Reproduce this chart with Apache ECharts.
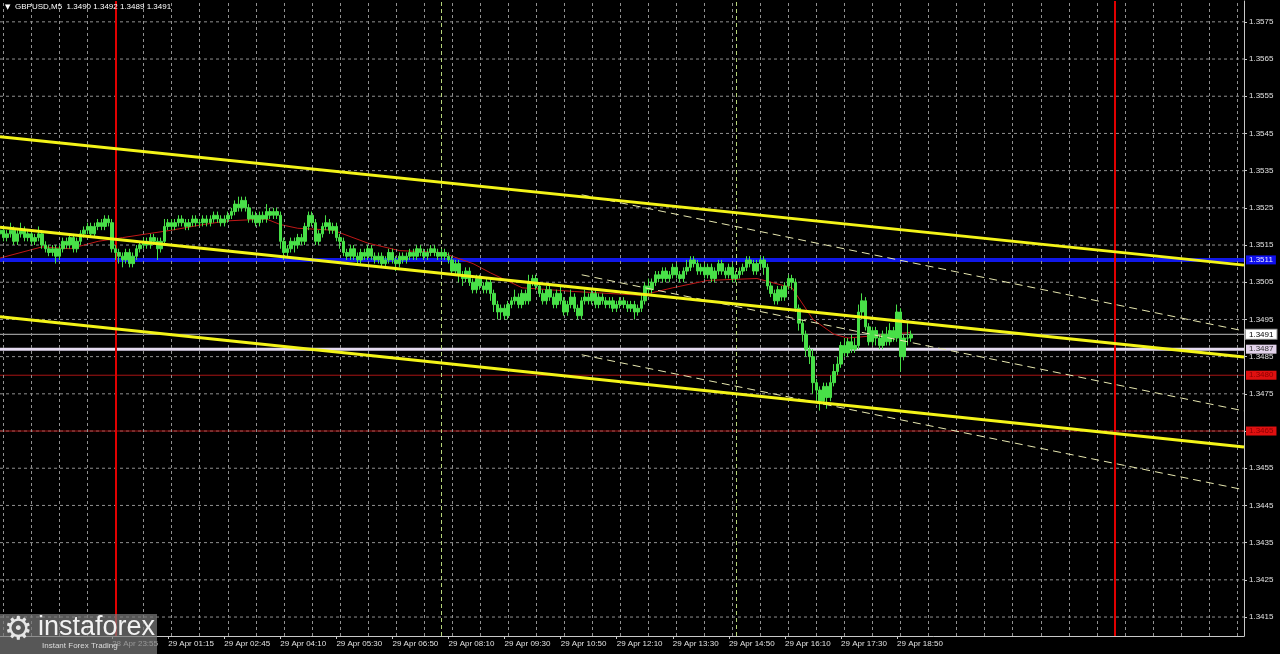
<!DOCTYPE html>
<html>
<head>
<meta charset="utf-8">
<script src="https://cdn.jsdelivr.net/npm/echarts@6/dist/echarts.min.js"></script>
<style>
html,body{margin:0;padding:0;background:#000;}
#chart{width:1280px;height:654px;}
</style>
</head>
<body>
<div id="chart"></div>
<script>
// ---- data (prices in pips = price x 10000) ----
const slotCount = 356; // bar slots across the chart width (incl. empty future space)
const timeTickIdx = [32,48,64,80,96,112,128,144,160,176,192,208,224,240,256];
const timeTickText = ['28 Apr 23:55','29 Apr 01:15','29 Apr 02:45','29 Apr 04:10','29 Apr 05:30','29 Apr 06:50','29 Apr 08:10','29 Apr 09:30','29 Apr 10:50','29 Apr 12:10','29 Apr 13:30','29 Apr 14:50','29 Apr 16:10','29 Apr 17:30','29 Apr 18:50'];
const priceTicks = [1.3415,1.3425,1.3435,1.3445,1.3455,1.3465,1.3475,1.3485,1.3495,1.3505,1.3515,1.3525,1.3535,1.3545,1.3555,1.3565,1.3575];
const priceMin = 1.34099, priceMax = 1.35806;

// [open, close, low, high] in pips
const ohlc = [
[13518,13519,13517,13520],[13519,13517,13516,13520],[13517,13518,13516,13519],[13518,13519,13517,13521],[13519,13516,13515,13520],
[13516,13518,13515,13519],[13518,13519,13517,13521],[13519,13517,13516,13520],[13517,13518,13516,13519],[13518,13516,13515,13519],
[13516,13517,13515,13518],[13517,13518,13516,13520],[13518,13515,13514,13519],[13515,13514,13513,13516],[13514,13513,13512,13515],
[13513,13514,13512,13515],[13514,13512,13510,13515],[13512,13514,13511,13515],[13514,13516,13513,13517],[13516,13515,13514,13517],
[13515,13517,13514,13518],[13517,13514,13513,13518],[13514,13516,13513,13517],[13516,13518,13515,13519],[13518,13519,13517,13520],
[13519,13520,13518,13521],[13520,13518,13517,13521],[13518,13520,13517,13521],[13520,13521,13519,13522],[13521,13520,13519,13522],
[13520,13522,13519,13523],[13522,13521,13520,13523],[13521,13514,13513,13522],[13514,13513,13511,13515],[13513,13512,13510,13514],
[13512,13511,13509,13513],[13511,13513,13510,13514],[13513,13510,13509,13514],[13510,13512,13509,13513],[13512,13514,13511,13515],
[13514,13515,13513,13516],[13515,13516,13514,13517],[13516,13515,13514,13517],[13515,13517,13514,13518],[13517,13516,13515,13518],
[13516,13514,13511,13517],[13514,13516,13513,13517],[13516,13520,13515,13522],[13520,13521,13519,13522],[13521,13520,13519,13522],
[13520,13521,13519,13522],[13521,13522,13520,13523],[13522,13521,13520,13523],[13521,13520,13519,13522],[13520,13521,13519,13522],
[13521,13522,13520,13523],[13522,13521,13520,13523],[13521,13521,13520,13522],[13521,13522,13520,13523],[13522,13521,13520,13523],
[13521,13522,13520,13523],[13522,13523,13521,13524],[13523,13522,13521,13524],[13522,13521,13520,13523],[13521,13522,13520,13523],
[13522,13523,13521,13524],[13523,13524,13522,13525],[13524,13526,13523,13527],[13526,13525,13524,13528],[13525,13527,13524,13528],
[13527,13525,13524,13528],[13525,13522,13521,13526],[13522,13523,13521,13524],[13523,13521,13520,13524],[13521,13523,13520,13524],
[13523,13522,13521,13524],[13522,13524,13521,13526],[13524,13523,13522,13525],[13523,13524,13522,13525],[13524,13523,13522,13525],
[13523,13516,13514,13524],[13516,13513,13511,13517],[13513,13514,13512,13515],[13514,13516,13513,13517],[13516,13515,13513,13517],
[13515,13517,13514,13518],[13517,13516,13515,13518],[13516,13520,13515,13521],[13520,13523,13519,13524],[13523,13521,13520,13524],
[13521,13516,13515,13522],[13516,13518,13515,13519],[13518,13520,13517,13521],[13520,13521,13519,13523],[13521,13519,13518,13522],
[13519,13520,13518,13521],[13520,13517,13516,13521],[13517,13516,13514,13518],[13516,13513,13512,13517],[13513,13512,13511,13514],
[13512,13514,13511,13515],[13514,13512,13511,13515],[13512,13511,13510,13513],[13511,13513,13510,13514],[13513,13512,13511,13514],
[13512,13514,13511,13515],[13514,13512,13511,13515],[13512,13511,13510,13513],[13511,13512,13510,13513],[13512,13510,13509,13513],
[13510,13511,13509,13512],[13511,13513,13510,13514],[13513,13511,13510,13514],[13511,13510,13508,13512],[13510,13512,13509,13513],
[13512,13511,13510,13513],[13511,13512,13510,13513],[13512,13513,13511,13514],[13513,13512,13511,13514],[13512,13514,13511,13515],
[13514,13513,13512,13515],[13513,13512,13511,13514],[13512,13513,13511,13514],[13513,13514,13512,13515],[13514,13513,13512,13515],
[13513,13512,13511,13514],[13512,13513,13511,13514],[13513,13512,13511,13514],[13512,13511,13510,13513],[13511,13508,13507,13512],
[13508,13510,13507,13511],[13510,13507,13505,13511],[13507,13506,13504,13508],[13506,13508,13505,13509],[13508,13505,13504,13509],
[13505,13503,13502,13506],[13503,13506,13502,13507],[13506,13504,13503,13507],[13504,13503,13502,13505],[13503,13505,13502,13506],
[13505,13502,13500,13506],[13502,13499,13497,13503],[13499,13497,13495,13500],[13497,13498,13495,13499],[13498,13496,13495,13499],
[13496,13499,13495,13500],[13499,13500,13498,13501],[13500,13501,13499,13503],[13501,13499,13498,13502],[13499,13502,13498,13503],
[13502,13500,13499,13503],[13500,13505,13499,13507],[13505,13506,13504,13507],[13506,13504,13503,13507],[13504,13502,13501,13505],
[13502,13500,13499,13503],[13500,13503,13499,13504],[13503,13501,13500,13504],[13501,13499,13498,13502],[13499,13502,13498,13503],
[13502,13500,13499,13504],[13500,13497,13496,13501],[13497,13499,13496,13500],[13499,13501,13498,13503],[13501,13498,13497,13502],
[13498,13496,13495,13499],[13496,13500,13495,13501],[13500,13501,13499,13503],[13501,13500,13499,13502],[13500,13502,13499,13503],
[13502,13499,13498,13503],[13499,13501,13498,13502],[13501,13500,13499,13502],[13500,13499,13498,13501],[13499,13500,13498,13501],
[13500,13498,13497,13501],[13498,13499,13497,13500],[13499,13500,13498,13501],[13500,13499,13498,13501],[13499,13498,13497,13500],
[13498,13499,13497,13500],[13499,13497,13495,13500],[13497,13498,13496,13499],[13498,13500,13497,13502],[13500,13504,13499,13505],
[13504,13503,13502,13506],[13503,13505,13502,13506],[13505,13507,13504,13508],[13507,13506,13505,13508],[13506,13508,13505,13509],
[13508,13506,13505,13509],[13506,13507,13505,13508],[13507,13509,13506,13510],[13509,13507,13506,13510],[13507,13506,13505,13508],
[13506,13508,13505,13509],[13508,13509,13507,13511],[13509,13511,13508,13512],[13511,13510,13509,13512],[13510,13508,13507,13511],
[13508,13509,13507,13510],[13509,13507,13506,13510],[13507,13509,13506,13510],[13509,13506,13505,13510],[13506,13508,13505,13509],
[13508,13510,13507,13511],[13510,13508,13507,13511],[13508,13507,13506,13509],[13507,13509,13506,13510],[13509,13506,13505,13510],
[13506,13507,13505,13508],[13507,13508,13506,13509],[13508,13509,13507,13510],[13509,13511,13508,13512],[13511,13510,13509,13512],
[13510,13508,13507,13511],[13508,13510,13507,13511],[13510,13511,13509,13512],[13511,13509,13507,13512],[13509,13504,13503,13510],
[13504,13502,13501,13505],[13502,13500,13499,13503],[13500,13503,13499,13504],[13503,13501,13500,13504],[13501,13504,13500,13505],
[13504,13506,13503,13507],[13506,13505,13503,13507],[13505,13498,13497,13506],[13498,13494,13492,13499],[13494,13491,13489,13495],
[13491,13487,13485,13492],[13487,13485,13483,13488],[13485,13478,13475,13487],[13478,13476,13473,13479],[13476,13473,13470.5,13477],
[13473,13477,13472,13478],[13477,13474,13471,13478],[13474,13478,13473,13480],[13478,13481,13477,13483],[13481,13483,13480,13485],
[13483,13488,13482,13489],[13488,13486,13485,13490],[13486,13489,13485,13490],[13489,13487,13486,13491],[13487,13488,13486,13490],
[13488,13497,13487,13499],[13497,13500,13495,13502],[13500,13493,13492,13501],[13493,13489,13488,13494],[13489,13492,13488,13493],
[13492,13490,13488,13493],[13490,13488,13487,13491],[13488,13491,13487,13492],[13491,13489,13488,13493],[13489,13492,13488,13494],
[13492,13490,13489,13493],[13490,13497,13489,13499],[13497,13485,13481,13498],[13485,13490,13484,13491],[13490,13490,13488,13494],
[13490,13491,13489,13492]
];

// moving average, [bar index, pips]
const maLine = [[0,13511.5],[12,13514.5],[20,13514],[28,13516],[35,13517],[42,13518],[49,13519],[58,13520.5],[65,13521.5],[76,13522],[80,13520.5],[85,13519.5],[95,13519],[105,13515.5],[114,13513.5],[126,13513],[135,13510],[140,13507.5],[149,13503.5],[164,13502.5],[183,13501.5],[192,13503.5],[202,13505.5],[216,13506],[226,13503.5],[232,13495],[238,13491],[242,13490],[248,13490.5],[260,13491.5]];

// channel lines, [bar index, pips]
const chanUpper = [[0,13544.1],[355,13509.6]];
const chanMiddle = [[0,13519.8],[355,13484.9]];
const chanLower = [[0,13495.7],[355,13460.7]];
const dashUpper = [[166,13528.5],[355,13491.9]];
const dashMiddle = [[166,13507.0],[355,13470.4]];
const dashLower = [[166,13485.5],[355,13449.2]];

// horizontal levels
const levelBlue = 1.3511;
const levelBid = 1.3491;
const levelWhite = 1.3487;
const levelRed = [1.3480, 1.3465];

// vertical markers (bar indices)
const dayBreakIdx = [33, 318];
const sessionIdx = [126, 210];
const vGridStep = 8, vGridFirst = 1;

const titleText = 'GBPUSD,M5  1.3490 1.3492 1.3489 1.3491';

// ---- build ----
const P = v => v / 10000;
const lastSlot = slotCount - 1;
const categories = Array.from({length: slotCount}, (_, i) => String(i));
const tickMap = {};
timeTickIdx.forEach((idx, k) => { tickMap[idx] = timeTickText[k]; });
const toPts = arr => arr.map(d => [d[0], P(d[1])]);
const FONT = 'Liberation Sans, Arial, sans-serif';
const vGridIdx = [];
for (let i = vGridFirst; i < slotCount; i += vGridStep) vGridIdx.push(i);

const gridLineStyle = {color: '#909090', width: 1, type: [3, 3]};

const chart = echarts.init(document.getElementById('chart'), null, {renderer: 'canvas'});

function hLine(price, lineStyle, z, tag) {
  const s = {
    type: 'line', data: [[0, price], [lastSlot, price]], symbol: 'none', silent: true, z: z,
    lineStyle: lineStyle, clip: false
  };
  if (tag) {
    s.endLabel = {
      show: true, distance: 2, formatter: price.toFixed(4),
      backgroundColor: tag.bg, color: tag.fg, borderColor: tag.border || tag.bg, borderWidth: tag.border ? 1 : 0,
      padding: [1, 3, 0, 3], fontSize: 8, fontFamily: FONT
    };
  }
  return s;
}

const series = [];
// horizontal grid
priceTicks.forEach(p => series.push(hLine(p, gridLineStyle, 1)));
// vertical grid + markers
series.push({
  type: 'line', data: [], silent: true, z: 2,
  markLine: {
    silent: true, symbol: 'none', animation: false,
    label: {show: false},
    data: [
      ...vGridIdx.map(i => ({xAxis: i, lineStyle: gridLineStyle})),
      ...sessionIdx.map(i => ({xAxis: i, lineStyle: {color: '#b6d47a', width: 1, type: [4, 3]}})),
      ...dayBreakIdx.map(i => ({xAxis: i, lineStyle: {color: '#e00000', width: 2, type: 'solid'}}))
    ]
  }
});
// levels
series.push(hLine(levelBlue, {color: '#1018e8', width: 4}, 3, {bg: '#1010f0', fg: '#e8e8ff'}));
series.push(hLine(levelBid, {color: '#bdbdbd', width: 1}, 3, {bg: '#ffffff', fg: '#000000', border: '#9a9a9a'}));
series.push(hLine(levelWhite, {color: '#e4daf0', width: 3}, 3, {bg: '#e2d2ea', fg: '#303030'}));
levelRed.forEach(p => series.push(hLine(p, {color: '#a81414', width: 1}, 3, {bg: '#e01010', fg: '#8a0000'})));
// MA
series.push({
  type: 'line', data: toPts(maLine), symbol: 'none', silent: true, z: 4,
  lineStyle: {color: '#c01818', width: 1}
});
// candles
series.push({
  type: 'candlestick', data: ohlc.map(r => r.map(P)), barWidth: 3, silent: true, z: 5,
  itemStyle: {color: '#48e048', color0: '#48e048', borderColor: '#48e048', borderColor0: '#48e048', borderWidth: 1}
});
[dashUpper, dashMiddle, dashLower].forEach(d => series.push({
  type: 'line', data: toPts(d), symbol: 'none', silent: true, z: 6,
  lineStyle: {color: '#e8e8b0', width: 1, type: [8, 5]}
}));
[chanUpper, chanMiddle, chanLower].forEach(d => series.push({
  type: 'line', data: toPts(d), symbol: 'none', silent: true, z: 7,
  lineStyle: {color: '#f4f418', width: 3}
}));

const option = {
  backgroundColor: '#000000',
  animation: false,
  grid: {left: 0, right: 36, top: 1, bottom: 18, containLabel: false},
  xAxis: {
    type: 'category',
    data: categories,
    boundaryGap: false,
    axisLine: {show: true, lineStyle: {color: '#c8c8c8', width: 1}},
    axisTick: {show: true, length: 3, interval: (i) => tickMap[i] !== undefined, lineStyle: {color: '#c8c8c8'}},
    axisLabel: {
      show: true, interval: (i) => tickMap[i] !== undefined,
      formatter: (v) => tickMap[+v] || '',
      align: 'left', margin: 4, color: '#e0e0e0', fontSize: 8, fontFamily: FONT
    },
    splitLine: {show: false}
  },
  yAxis: {
    type: 'value',
    position: 'right',
    min: priceMin, max: priceMax,
    axisLine: {show: true, lineStyle: {color: '#c8c8c8', width: 1}},
    axisTick: {show: true, length: 3, customValues: priceTicks, lineStyle: {color: '#c8c8c8'}},
    axisLabel: {show: true, customValues: priceTicks, formatter: v => v.toFixed(4), margin: 5, color: '#e0e0e0', fontSize: 8, fontFamily: FONT},
    splitLine: {show: false}
  },
  series: series,
  graphic: [
    {type: 'text', left: 5, top: 4, z: 100, style: {text: '▼', fill: '#ffffff', font: '7px DejaVu Sans'}},
    {type: 'text', left: 15, top: 3, z: 100, style: {text: titleText, fill: '#ffffff', font: '8px ' + FONT}},
    {type: 'rect', left: 0, top: 614, z: 100, shape: {width: 157, height: 40}, style: {fill: 'rgba(120,120,120,0.72)'}},
    {type: 'text', left: 4, top: 615, z: 101, style: {text: '⚙', fill: '#e6e6e6', font: '32px DejaVu Sans'}},
    {type: 'text', left: 38, top: 614, z: 101, style: {text: 'instaforex', fill: '#f2f2f2', font: '27px ' + FONT}},
    {type: 'text', left: 42, top: 642, z: 101, style: {text: 'Instant Forex Trading', fill: '#dddddd', font: '8px ' + FONT}}
  ]
};
chart.setOption(option);
</script>
</body>
</html>
